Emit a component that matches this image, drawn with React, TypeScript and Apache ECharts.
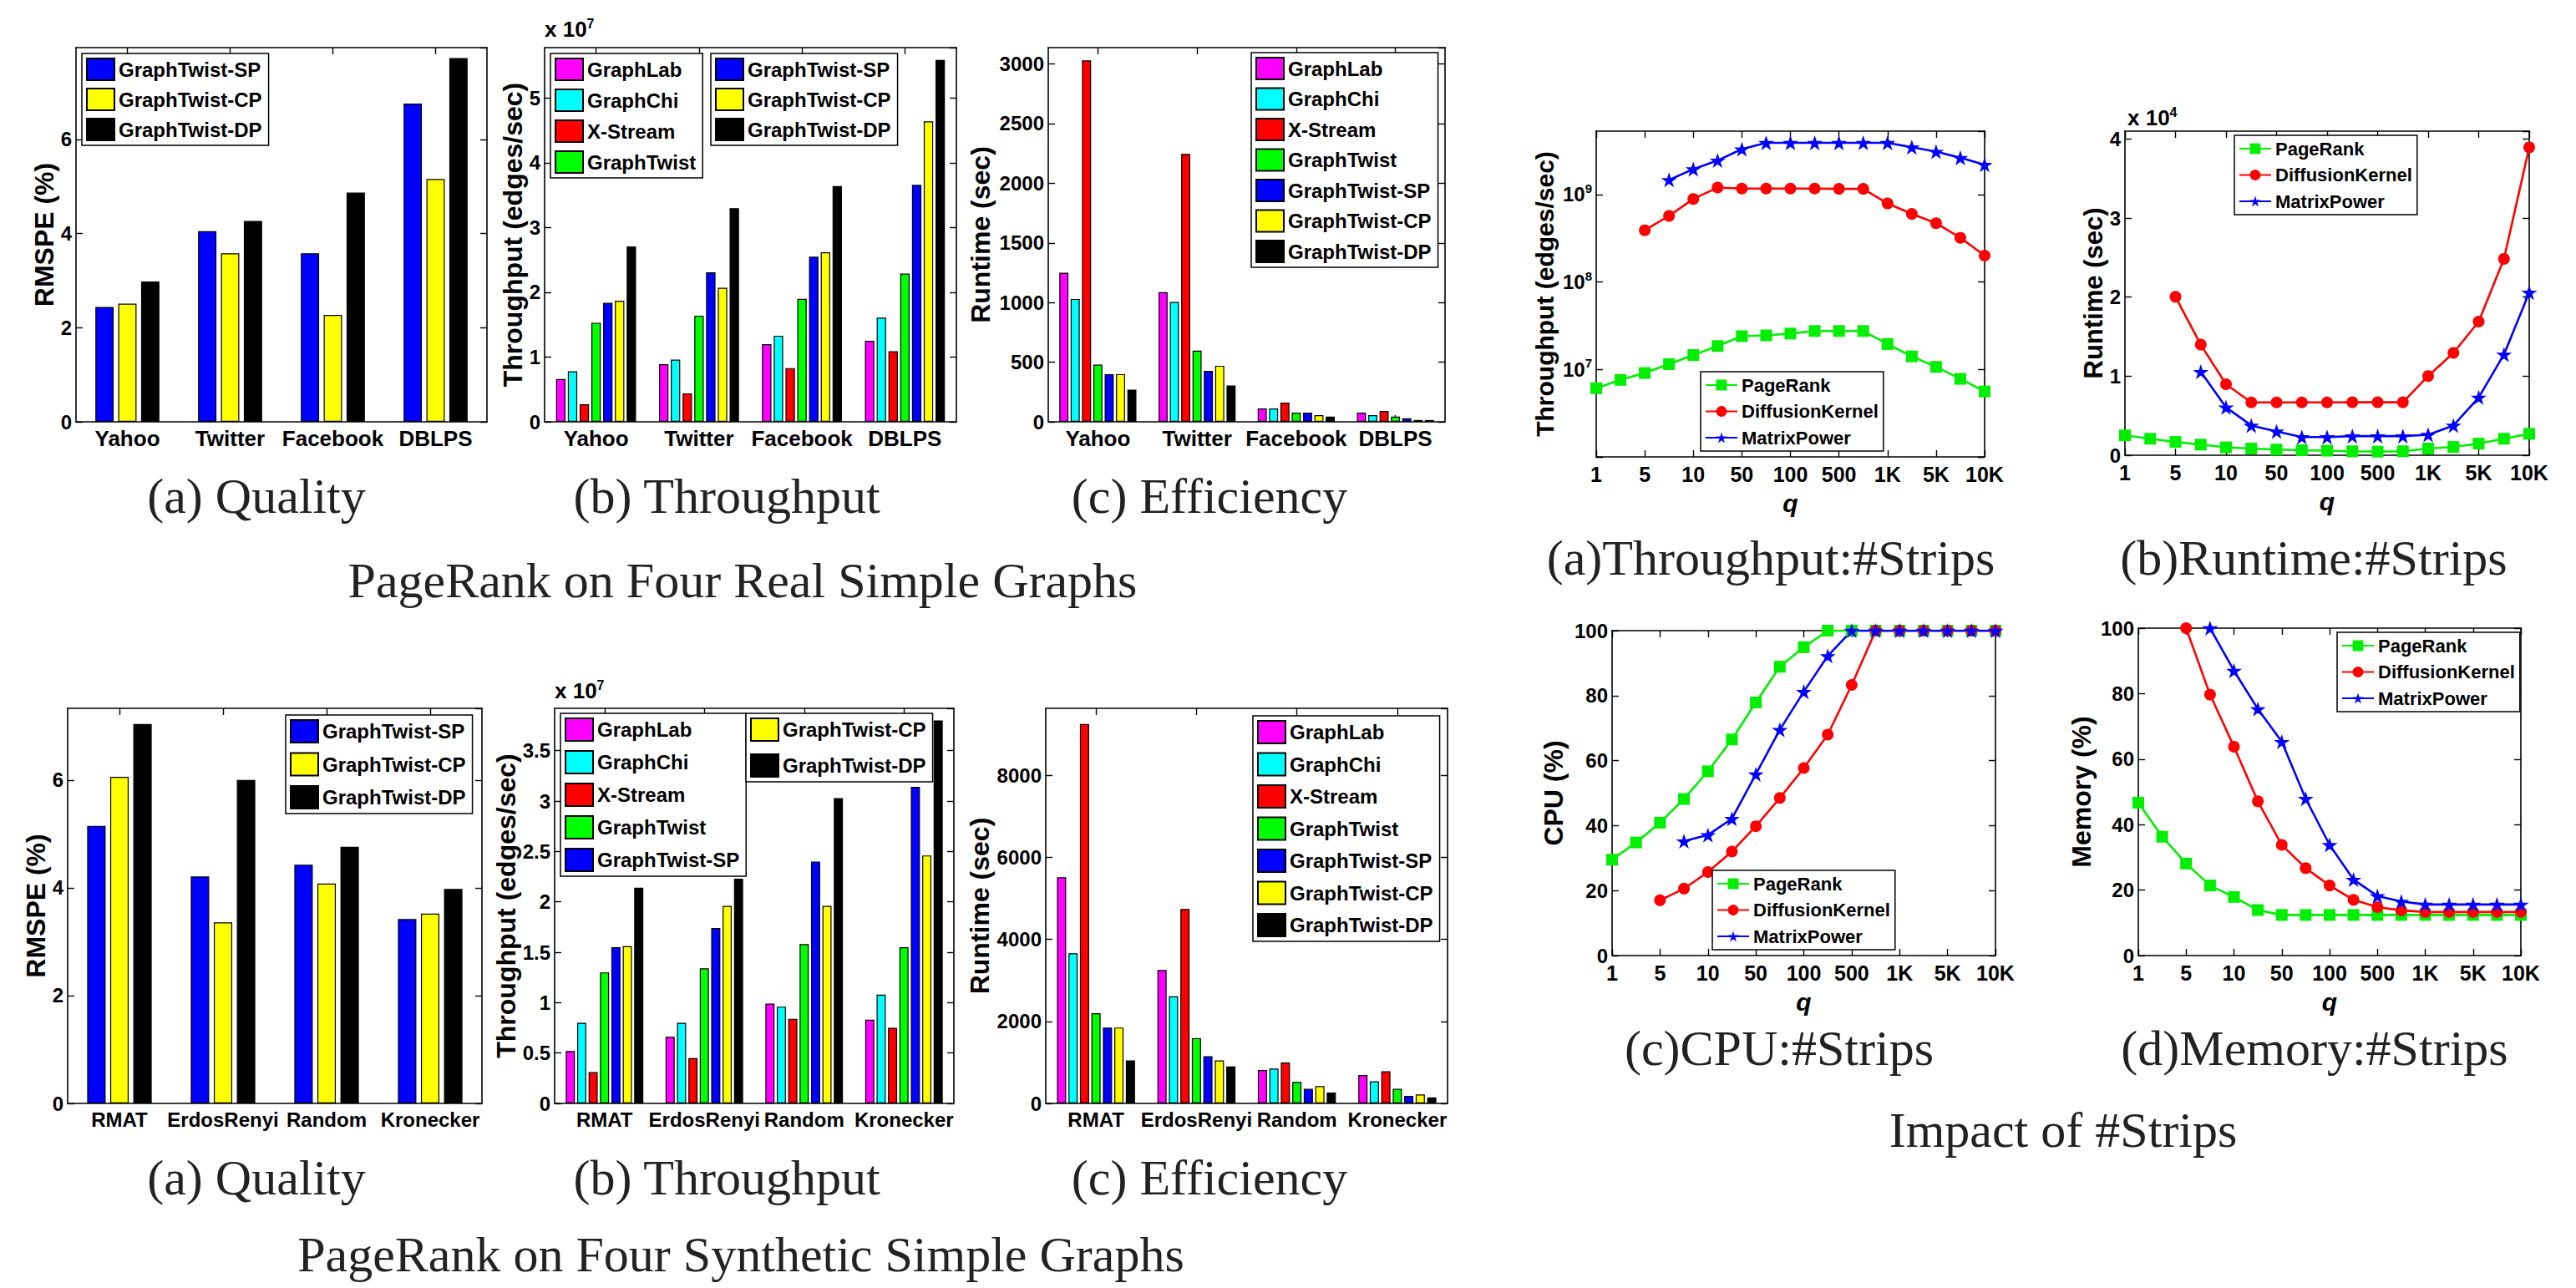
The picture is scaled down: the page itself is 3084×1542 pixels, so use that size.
import React, { useEffect, useRef } from "react";
import * as echarts from "echarts";

const SANS = "'Liberation Sans', Arial, Helvetica, sans-serif";
const SERIF = "'Liberation Serif', 'Times New Roman', serif";

// ---------- categories ----------
const realGraphs = ["Yahoo", "Twitter", "Facebook", "DBLPS"];
const synthGraphs = ["RMAT", "ErdosRenyi", "Random", "Kronecker"];
const allSystems = ["GraphLab", "GraphChi", "X-Stream", "GraphTwist", "GraphTwist-SP", "GraphTwist-CP", "GraphTwist-DP"];
const systemColors = ["#ff00ff", "#00ffff", "#ff0000", "#00ff00", "#0000ff", "#ffff00", "#000000"];
const variants = ["GraphTwist-SP", "GraphTwist-CP", "GraphTwist-DP"];
const variantColors = ["#0000ff", "#ffff00", "#000000"];
const algorithms = ["PageRank", "DiffusionKernel", "MatrixPower"];

// ---------- real graphs ----------
// RMSPE (%), rows: SP, CP, DP
const qualityReal = [
  [2.44, 4.05, 3.58, 6.76],
  [2.51, 3.58, 2.27, 5.16],
  [2.98, 4.27, 4.87, 7.73],
];
// Throughput (x 10^7 edges/sec), rows follow allSystems
const throughputReal = [
  [0.66, 0.89, 1.2, 1.25],
  [0.78, 0.96, 1.33, 1.61],
  [0.27, 0.44, 0.83, 1.09],
  [1.53, 1.64, 1.9, 2.29],
  [1.84, 2.31, 2.55, 3.66],
  [1.87, 2.07, 2.62, 4.64],
  [2.71, 3.3, 3.64, 5.59],
];
// Runtime (sec)
const runtimeReal = [
  [1250, 1087, 112, 77],
  [1030, 1005, 112, 56],
  [3030, 2246, 161, 91],
  [480, 597, 77, 43],
  [400, 428, 77, 29],
  [400, 470, 56, 15],
  [270, 304, 43, 15],
];

// ---------- synthetic graphs ----------
const qualitySynth = [
  [5.15, 4.21, 4.43, 3.42],
  [6.06, 3.36, 4.08, 3.52],
  [7.04, 6.0, 4.76, 3.98],
];
const throughputSynth = [
  [0.52, 0.66, 0.99, 0.83],
  [0.8, 0.8, 0.96, 1.08],
  [0.31, 0.45, 0.84, 0.75],
  [1.3, 1.34, 1.58, 1.55],
  [1.55, 1.74, 2.4, 3.14],
  [1.56, 1.96, 1.96, 2.46],
  [2.14, 2.23, 3.03, 3.8],
];
const runtimeSynth = [
  [5510, 3250, 815, 693],
  [3660, 2610, 849, 540],
  [9250, 4740, 998, 782],
  [2200, 1590, 523, 354],
  [1850, 1150, 354, 183],
  [1850, 1050, 421, 218],
  [1050, 900, 265, 150],
];

// ---------- impact of #strips ----------
const qTicks = ["1", "5", "10", "50", "100", "500", "1K", "5K", "10K"];
const qSlots = [0, 0.5, 1, 1.5, 2, 2.5, 3, 3.5, 4, 4.5, 5, 5.5, 6, 6.5, 7, 7.5, 8];

const tpPageRank = [6.1e6, 7.6e6, 9.1e6, 1.15e7, 1.46e7, 1.85e7, 2.4e7, 2.45e7, 2.57e7, 2.75e7, 2.75e7, 2.75e7, 1.95e7, 1.41e7, 1.07e7, 7.8e6, 5.6e6];
const tpDiffusion = [null, null, 3.9e8, 5.7e8, 8.9e8, 1.2e9, 1.17e9, 1.17e9, 1.17e9, 1.17e9, 1.16e9, 1.16e9, 7.9e8, 6.0e8, 4.7e8, 3.2e8, 2.0e8];
const tpMatrix = [null, null, null, 1.47e9, 1.95e9, 2.45e9, 3.3e9, 3.9e9, 3.9e9, 3.9e9, 3.9e9, 3.9e9, 3.9e9, 3.47e9, 3.09e9, 2.63e9, 2.19e9];

const rtPageRank = [2510, 2090, 1680, 1340, 1000, 840, 720, 630, 580, 500, 460, 500, 840, 1050, 1470, 2090, 2710];
const rtDiffusion = [null, null, 20040, 13990, 8980, 6680, 6680, 6680, 6680, 6700, 6700, 6700, 10020, 12940, 16910, 24840, 38950];
const rtMatrix = [null, null, null, 10560, 6060, 3760, 3010, 2300, 2300, 2420, 2420, 2420, 2590, 3760, 7310, 12740, 20580];

const cpuPageRank = [29.5, 34.8, 40.9, 48.2, 56.7, 66.5, 77.9, 88.9, 94.9, 100, 100, 100, 100, 100, 100, 100, 100];
const cpuDiffusion = [null, null, 17, 20.6, 25.7, 32, 39.8, 48.5, 57.7, 68, 83.3, 100, 100, 100, 100, 100, 100];
const cpuMatrix = [null, null, null, 35.2, 37.1, 42.1, 55.8, 69.5, 81.2, 92.2, 100, 100, 100, 100, 100, 100, 100];

const memPageRank = [46.7, 36.3, 28.1, 21.4, 17.9, 13.9, 12.4, 12.4, 12.4, 12.4, 12.4, 12.4, 12.4, 12.4, 12.4, 12.4, 12.4];
const memDiffusion = [null, null, 100, 79.7, 63.8, 47.1, 33.8, 26.7, 21.4, 17, 14.8, 13.8, 13.3, 13.3, 13.3, 13.3, 13.3];
const memMatrix = [null, null, null, 100, 87, 75.3, 65.3, 47.9, 33.8, 23.2, 18.2, 16.5, 15.6, 15.6, 15.6, 15.6, 15.6];

const STAR = "path://M50,0L61.2,34.5L97.6,34.5L68.2,55.9L79.4,90.5L50,69.1L20.6,90.5L31.8,55.9L2.4,34.5L38.8,34.5Z";
const algoStyles = [
  { color: "#00ee00", symbol: "rect", size: 14 },
  { color: "#ff0000", symbol: "circle", size: 14 },
  { color: "#0000ff", symbol: STAR, size: 19 },
];

type Rect = [number, number, number, number];

const axisLineStyle = { color: "#000", width: 1.6 };
const tickStyle = { color: "#000", width: 1.4 };
const boldFont = { fontFamily: SANS, fontWeight: "bold" as const, color: "#000" };
const plainNumber = (v: number) => String(v);

function buildOption() {
  const grid: any[] = [];
  const xAxis: any[] = [];
  const yAxis: any[] = [];
  const series: any[] = [];
  const legend: any[] = [];
  const graphic: any[] = [];

  const addGrid = (r: Rect) => {
    grid.push({ left: r[0], top: r[1], width: r[2], height: r[3], show: false, containLabel: false });
    return grid.length - 1;
  };

  function yPair(gi: number, base: any, cfg: any) {
    const yi = yAxis.length;
    const common = {
      gridIndex: gi,
      ...base,
      axisLine: { show: true, onZero: false, lineStyle: axisLineStyle },
      axisTick: { show: true, inside: true, length: 8, lineStyle: tickStyle },
      splitLine: { show: false },
    };
    yAxis.push({
      ...common,
      position: "left",
      axisLabel: {
        ...boldFont,
        fontSize: 24,
        margin: 5,
        showMaxLabel: cfg.showMax ?? false,
        formatter: cfg.yFmt ?? plainNumber,
        rich: cfg.rich,
      },
      name: cfg.yName,
      nameLocation: "middle",
      nameGap: cfg.yNameGap,
      nameTextStyle: { ...boldFont, fontSize: cfg.yNameSize ?? 32 },
    });
    yAxis.push({ ...common, position: "right", axisLabel: { show: false } });
    return yi;
  }

  function barChart(cfg: any) {
    const gi = addGrid(cfg.rect);
    const xi = xAxis.length;
    const xCommon = {
      type: "category",
      gridIndex: gi,
      data: cfg.cats,
      axisLine: { show: true, onZero: false, lineStyle: axisLineStyle },
      axisTick: { show: true, inside: true, alignWithLabel: true, length: 8, lineStyle: tickStyle },
      splitLine: { show: false },
    };
    xAxis.push({ ...xCommon, position: "bottom", axisLabel: { ...boldFont, interval: 0, fontSize: cfg.catFont, margin: 7 } });
    xAxis.push({ ...xCommon, position: "top", axisLabel: { show: false } });
    const yi = yPair(gi, { type: "value", min: 0, max: cfg.yMax, interval: cfg.yInterval }, cfg);
    cfg.values.forEach((vals: number[], k: number) => {
      series.push({
        type: "bar",
        name: cfg.names[k],
        xAxisIndex: xi,
        yAxisIndex: yi,
        data: vals,
        barWidth: cfg.barWidth,
        barGap: "25%",
        itemStyle: { color: cfg.colors[k], borderColor: "#000", borderWidth: 1.2 },
        emphasis: { disabled: true },
      });
    });
  }

  function lineChart(cfg: any) {
    const gi = addGrid(cfg.rect);
    const xi = xAxis.length;
    const xCommon = {
      type: "value",
      gridIndex: gi,
      min: 0,
      max: 8,
      interval: 1,
      axisLine: { show: true, onZero: false, lineStyle: axisLineStyle },
      axisTick: { show: true, inside: true, length: 8, lineStyle: tickStyle },
      splitLine: { show: false },
    };
    xAxis.push({
      ...xCommon,
      position: "bottom",
      axisLabel: { ...boldFont, fontSize: 25, margin: 8, formatter: (v: number) => qTicks[Math.round(v)] ?? "" },
      name: "q",
      nameLocation: "middle",
      nameGap: 40,
      nameTextStyle: { ...boldFont, fontStyle: "italic", fontSize: 30 },
    });
    xAxis.push({ ...xCommon, position: "top", axisLabel: { show: false } });
    const yi = yPair(gi, cfg.yBase, cfg);
    cfg.lines.forEach((vals: (number | null)[], k: number) => {
      const st = algoStyles[k];
      series.push({
        type: "line",
        name: algorithms[k],
        xAxisIndex: xi,
        yAxisIndex: yi,
        data: qSlots.map((s, i) => [s, vals[i]]),
        symbol: st.symbol,
        symbolSize: st.size,
        symbolKeepAspect: true,
        showAllSymbol: true,
        lineStyle: { color: st.color, width: 2.6 },
        itemStyle: { color: st.color },
        emphasis: { disabled: true },
      });
    });
  }

  function addLegend(names: string[], left: number, top: number, o: any) {
    legend.push({
      show: true,
      orient: "vertical",
      left,
      top,
      data: names,
      selectedMode: false,
      borderColor: "#000",
      borderWidth: 1.5,
      borderRadius: 0,
      backgroundColor: "#fff",
      padding: o.padding ?? [5, 8, 5, 5],
      itemGap: o.gap,
      itemWidth: o.w,
      itemHeight: o.h,
      ...(o.icon ? { icon: o.icon } : {}),
      textStyle: { ...boldFont, fontSize: o.font },
      z: 10,
    });
  }

  const caption = (text: string, x: number, y: number) =>
    graphic.push({
      type: "text",
      x,
      y,
      z: 20,
      style: { text, fontFamily: SERIF, fontSize: 60, fill: "#222", align: "center", verticalAlign: "middle" },
    });

  const power = (exp: string, x: number, y: number) =>
    graphic.push({
      type: "text",
      x,
      y,
      z: 20,
      style: {
        text: `{a|x 10}{b|${exp}}`,
        align: "left",
        verticalAlign: "middle",
        fill: "#000",
        rich: {
          a: { fontFamily: SANS, fontWeight: "bold", fontSize: 26, lineHeight: 30, fill: "#000" },
          b: { fontFamily: SANS, fontWeight: "bold", fontSize: 16, lineHeight: 16, verticalAlign: "top", fill: "#000" },
        },
      },
    });

  const barLegend = { w: 33, icon: "rect", font: 24 };
  const lineLegend = { w: 38, h: 16, gap: 9.5, font: 22, padding: [5, 6, 5, 5] };

  // ===== Row 1: real graphs =====
  barChart({
    rect: [91, 57, 492, 448], cats: realGraphs, names: variants, colors: variantColors, values: qualityReal,
    yMax: 7.95, yInterval: 2, yName: "RMSPE (%)", yNameGap: 22, barWidth: "17.8%", catFont: 26,
  });
  addLegend(variants, 98, 64, { ...barLegend, h: 26, gap: 8 });

  barChart({
    rect: [652, 57, 493, 448], cats: realGraphs, names: allSystems, colors: systemColors, values: throughputReal,
    yMax: 5.78, yInterval: 1, yName: "Throughput (edges/sec)", yNameGap: 22, barWidth: "9.14%", catFont: 26,
  });
  addLegend(allSystems.slice(0, 4), 659, 64, { ...barLegend, h: 26, gap: 9 });
  addLegend(allSystems.slice(4), 851, 64, { ...barLegend, h: 26, gap: 8 });
  power("7", 652, 35);

  barChart({
    rect: [1255, 57, 475, 448], cats: realGraphs, names: allSystems, colors: systemColors, values: runtimeReal,
    yMax: 3137, yInterval: 500, yName: "Runtime (sec)", yNameGap: 65, barWidth: "9.14%", catFont: 26,
  });
  addLegend(allSystems, 1498, 63, { ...barLegend, h: 26, gap: 8.5 });

  caption("(a) Quality", 307, 594);
  caption("(b) Throughput", 870, 594);
  caption("(c) Efficiency", 1448, 594);
  caption("PageRank on Four Real Simple Graphs", 889, 695);

  // ===== Row 2: synthetic graphs =====
  barChart({
    rect: [81, 848, 496, 473], cats: synthGraphs, names: variants, colors: variantColors, values: qualitySynth,
    yMax: 7.33, yInterval: 2, yName: "RMSPE (%)", yNameGap: 21, barWidth: "17.8%", catFont: 24,
  });
  addLegend(variants, 342, 856, { ...barLegend, h: 27, gap: 10.5 });

  barChart({
    rect: [664, 848, 478, 473], cats: synthGraphs, names: allSystems, colors: systemColors, values: throughputSynth,
    yMax: 3.92, yInterval: 0.5, yName: "Throughput (edges/sec)", yNameGap: 40, barWidth: "9.14%", catFont: 24,
  });
  addLegend(allSystems.slice(0, 5), 671, 854, { ...barLegend, h: 27, gap: 10 });
  addLegend(allSystems.slice(5), 893, 854, { ...barLegend, h: 27, gap: 14 });
  power("7", 664, 827);

  barChart({
    rect: [1252, 848, 481, 473], cats: synthGraphs, names: allSystems, colors: systemColors, values: runtimeSynth,
    yMax: 9630, yInterval: 2000, yName: "Runtime (sec)", yNameGap: 63, barWidth: "9.14%", catFont: 24,
  });
  addLegend(allSystems, 1500, 857, { ...barLegend, h: 27, gap: 9.5 });

  caption("(a) Quality", 307, 1410);
  caption("(b) Throughput", 870, 1410);
  caption("(c) Efficiency", 1448, 1410);
  caption("PageRank on Four Synthetic Simple Graphs", 887, 1502);

  // ===== Impact of #Strips =====
  const logFmt = (v: number) => {
    const e = Math.log10(v);
    const r = Math.round(e);
    if (Math.abs(e - r) > 1e-6 || r < 7 || r > 9) return "";
    return `{b|10}{s|${r}}`;
  };
  lineChart({
    rect: [1911, 157, 465, 390],
    yBase: { type: "log", logBase: 10, min: 1e6, max: 5.3e9 },
    yFmt: logFmt,
    rich: {
      b: { fontFamily: SANS, fontWeight: "bold", fontSize: 24, lineHeight: 30, color: "#000" },
      s: { fontFamily: SANS, fontWeight: "bold", fontSize: 15, lineHeight: 15, verticalAlign: "top", color: "#000" },
    },
    showMax: false,
    yName: "Throughput (edges/sec)", yNameGap: 47, yNameSize: 30,
    lines: [tpPageRank, tpDiffusion, tpMatrix],
  });
  addLegend(algorithms, 2036, 445, lineLegend);

  lineChart({
    rect: [2544, 157, 484, 388],
    yBase: { type: "value", min: 0, max: 41000, interval: 10000 },
    yFmt: (v: number) => String(v / 10000),
    showMax: false,
    yName: "Runtime (sec)", yNameGap: 22, yNameSize: 31,
    lines: [rtPageRank, rtDiffusion, rtMatrix],
  });
  addLegend(algorithms, 2675, 162, lineLegend);
  power("4", 2547, 141);

  lineChart({
    rect: [1930, 755, 459, 389],
    yBase: { type: "value", min: 0, max: 100, interval: 20 },
    showMax: true,
    yName: "CPU (%)", yNameGap: 54, yNameSize: 32,
    lines: [cpuPageRank, cpuDiffusion, cpuMatrix],
  });
  addLegend(algorithms, 2050, 1042, lineLegend);

  lineChart({
    rect: [2560, 752, 458, 392],
    yBase: { type: "value", min: 0, max: 100, interval: 20 },
    showMax: true,
    yName: "Memory (%)", yNameGap: 52, yNameSize: 32,
    lines: [memPageRank, memDiffusion, memMatrix],
  });
  addLegend(algorithms, 2798, 757, lineLegend);

  caption("(a)Throughput:#Strips", 2120, 668);
  caption("(b)Runtime:#Strips", 2770, 668);
  caption("(c)CPU:#Strips", 2130, 1255);
  caption("(d)Memory:#Strips", 2771, 1255);
  caption("Impact of #Strips", 2470, 1353);

  return {
    animation: false,
    backgroundColor: "#ffffff",
    textStyle: { fontFamily: SANS },
    grid,
    xAxis,
    yAxis,
    series,
    legend,
    graphic,
  };
}

export default function App() {
  const ref = useRef<HTMLDivElement>(null);
  useEffect(() => {
    if (!ref.current) return;
    const chart = echarts.init(ref.current, undefined, { renderer: "svg" });
    chart.setOption(buildOption() as any);
    return () => chart.dispose();
  }, []);
  return (
    <div
      ref={ref}
      style={{ position: "absolute", left: 0, top: 0, width: 3084, height: 1542, background: "#fff" }}
    />
  );
}
